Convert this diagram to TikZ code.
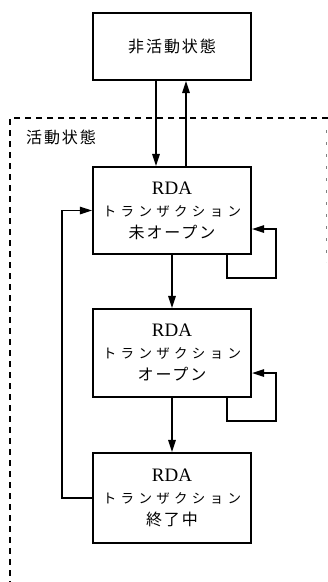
\documentclass[tikz,border=0pt]{standalone}
\usepackage{fontspec}
\setmainfont{Liberation Serif}
\newfontfamily\cjk[LetterSpace=12]{Noto Sans CJK JP}
\newfontfamily\cjkwide[LetterSpace=32]{Noto Sans CJK JP}
\usetikzlibrary{arrows.meta}
\newcommand{\rdatext}[1]{{\fontsize{19}{22}\selectfont RDA}\\{\cjkwide\fontsize{13.5}{22}\selectfont トランザクション}\\{\cjk\fontsize{16}{22}\selectfont #1}}
\begin{document}
\begin{tikzpicture}[x=1pt,y=-1pt,
  state/.style={draw,line width=2.2pt,minimum width=158pt,align=center,inner sep=0pt,font=\fontsize{16}{22}\selectfont},
  arr/.style={line width=1.4pt,-{Triangle[length=12pt,width=7.5pt]}}]
\useasboundingbox (0,0) rectangle (328,582);
% dashed frame
\draw[line width=1.5pt,dash pattern=on 6pt off 5pt] (328,118) -- (10,118) -- (10,582);
\draw[line width=0.6pt,gray,dash pattern=on 3pt off 9pt] (326,130) -- (326,262);
\node[font=\cjk\fontsize{16}{18}\selectfont] (lab) at (61,137) {活動状態};
% states
\node[state,minimum height=67pt,font=\cjk\fontsize{16}{18}\selectfont] (top) at (172,46.5) {非活動状態};
\node[state,minimum height=87pt] (b1) at (172,210.5) {\rdatext{未オープン}};
\node[state,minimum height=88pt] (b2) at (172,353) {\rdatext{オープン}};
\node[state,minimum height=90pt] (b3) at (172,498) {\rdatext{終了中}};
% top <-> b1
\draw[arr] ([xshift=-16pt]top.south) -- ([xshift=-16pt]b1.north);
\draw[arr] ([xshift=14pt]b1.north) -- ([xshift=14pt]top.south);
% main flow
\draw[arr] (b1.south) -- (b2.north);
\draw[arr] (b2.south) -- (b3.north);
% self loops
\coordinate (l1) at (276,229);
\draw[arr] ([xshift=55pt]b1.south) -- ++(0,23) -| (l1) -- (l1 -| b1.east);
\coordinate (l2) at (276,373);
\draw[arr] ([xshift=55pt]b2.south) -- ++(0,23) -| (l2) -- (l2 -| b2.east);
% back loop
\draw[arr] (b3.west) -- ++(-30,0) |- (b1.west);
\end{tikzpicture}
\end{document}
